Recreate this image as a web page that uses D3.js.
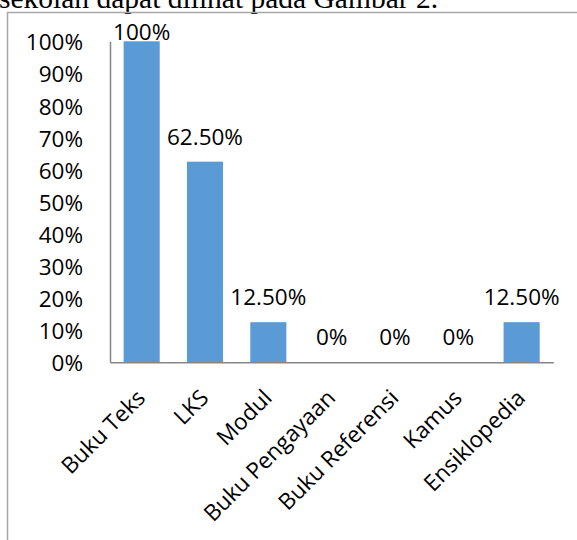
<!DOCTYPE html>
<html>
<head>
<meta charset="utf-8">
<script src="https://d3js.org/d3.v7.min.js"></script>
<style>
  body { margin: 0; background: #fff; }
  text { font-family: "Open Sans", sans-serif; fill: #000; }
</style>
</head>
<body>
<div id="chart"></div>
<script>
// data
var categories = ["Buku Teks", "LKS", "Modul", "Buku Pengayaan", "Buku Referensi", "Kamus", "Ensiklopedia"];
var values = [1, 0.625, 0.125, 0, 0, 0, 0.125];
var valueLabels = ["100%", "62.50%", "12.50%", "0%", "0%", "0%", "12.50%"];
var yTicks = [0, 0.1, 0.2, 0.3, 0.4, 0.5, 0.6, 0.7, 0.8, 0.9, 1];

var width = 577, height = 540;
var plot = {left: 110, right: 553.3, top: 41.3, bottom: 362.3};
var fontSize = "22.5px";

var svg = d3.select("#chart")
  .append("svg")
    .attr("width", width)
    .attr("height", height);

// bit of page text above the figure, cut off at the top
svg.append("text")
    .attr("x", -1)
    .attr("y", 7.5)
    .style("font-family", "'Liberation Serif', 'Times New Roman', serif")
    .style("font-size", "29.5px")
    .text("sekolah dapat dilihat pada Gambar 2.");

// chart frame (top and left edges visible)
svg.append("path")
    .attr("d", "M7.5,540 V12.5 H577")
    .attr("fill", "none")
    .attr("stroke", "#a6a6a6")
    .attr("stroke-width", 1.5);

var x = d3.scaleBand()
    .domain(categories)
    .range([plot.left, plot.right])
    .paddingInner(0.43)
    .paddingOuter(0.215);

var y = d3.scaleLinear()
    .domain([0, 1])
    .range([plot.bottom, plot.top]);

// Y axis
var yAxis = svg.append("g")
    .attr("transform", "translate(" + plot.left + ",0)")
    .call(d3.axisLeft(y).tickValues(yTicks).tickFormat(d3.format(".0%")).tickSize(0).tickPadding(27));
yAxis.select(".domain").attr("stroke", "#868686").attr("stroke-width", 1.5);
yAxis.selectAll("text")
    .style("font-size", fontSize)
    .attr("dy", "0.38em");

// bars
svg.append("g")
  .selectAll("rect")
  .data(values)
  .enter()
  .append("rect")
    .attr("x", function (d, i) { return x(categories[i]); })
    .attr("y", function (d) { return y(d); })
    .attr("width", x.bandwidth())
    .attr("height", function (d) { return y(0) - y(d); })
    .attr("fill", "#5b9bd5");

// X axis
var xAxis = svg.append("g")
    .attr("transform", "translate(0," + plot.bottom + ")")
    .call(d3.axisBottom(x).tickSize(0).tickPadding(0));
xAxis.select(".domain").attr("stroke", "#868686").attr("stroke-width", 1.5);
xAxis.selectAll("text")
    .style("font-size", fontSize)
    .style("text-anchor", "end")
    .attr("dy", null)
    .attr("y", 0)
    .attr("transform", "translate(5,37) rotate(-45)");

// data labels above bars, kept inside the frame
svg.append("g")
  .selectAll("text")
  .data(values)
  .enter()
  .append("text")
    .attr("x", function (d, i) { return x(categories[i]) + x.bandwidth() / 2; })
    .attr("y", function (d) { return Math.max(y(d) - 17, 40); })
    .attr("text-anchor", "middle")
    .style("font-size", fontSize)
    .text(function (d, i) { return valueLabels[i]; });
</script>
</body>
</html>
